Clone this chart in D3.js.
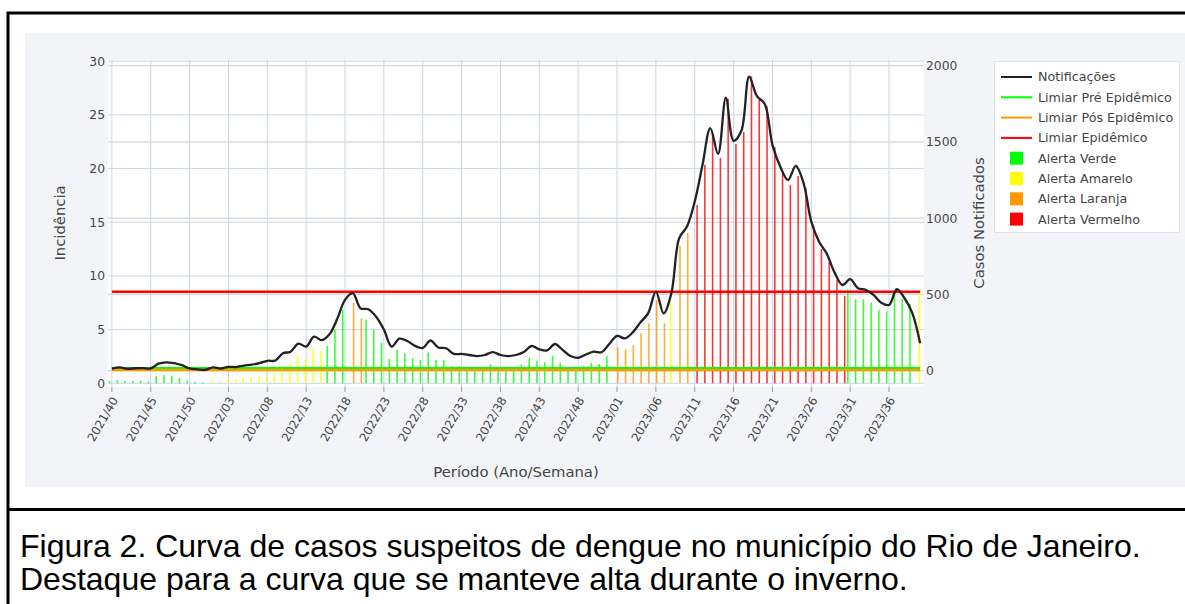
<!DOCTYPE html>
<html>
<head>
<meta charset="utf-8">
<title>Curva de casos suspeitos de dengue - Rio de Janeiro</title>
<script src="https://cdnjs.cloudflare.com/ajax/libs/d3/7.8.5/d3.min.js"></script>
<style>
	body { margin: 0; background: #fff; }
	svg text { font-family: "DejaVu Sans", sans-serif; fill: #444; }
	svg text.caption { font-family: "Liberation Sans", Arial, sans-serif; fill: #000; }
</style>
</head>
<body>
<svg id="chart" width="1185" height="604"></svg>
<script>

// semanas epidemiologicas (Ano/Semana)
var weeks = [
	"2021/40","2021/41","2021/42","2021/43","2021/44","2021/45","2021/46","2021/47","2021/48","2021/49","2021/50","2021/51","2021/52",
	"2022/01","2022/02","2022/03","2022/04","2022/05","2022/06","2022/07","2022/08","2022/09","2022/10","2022/11","2022/12","2022/13",
	"2022/14","2022/15","2022/16","2022/17","2022/18","2022/19","2022/20","2022/21","2022/22","2022/23","2022/24","2022/25","2022/26",
	"2022/27","2022/28","2022/29","2022/30","2022/31","2022/32","2022/33","2022/34","2022/35","2022/36","2022/37","2022/38","2022/39",
	"2022/40","2022/41","2022/42","2022/43","2022/44","2022/45","2022/46","2022/47","2022/48","2022/49","2022/50","2022/51","2022/52",
	"2023/01","2023/02","2023/03","2023/04","2023/05","2023/06","2023/07","2023/08","2023/09","2023/10","2023/11","2023/12","2023/13",
	"2023/14","2023/15","2023/16","2023/17","2023/18","2023/19","2023/20","2023/21","2023/22","2023/23","2023/24","2023/25","2023/26",
	"2023/27","2023/28","2023/29","2023/30","2023/31","2023/32","2023/33","2023/34","2023/35","2023/36","2023/37","2023/38","2023/39",
	"2023/40"
];

// incidencia por semana (eixo esquerdo)
var incidencia = [
	0.21, 0.30, 0.20, 0.22, 0.22, 0.18, 0.70, 0.80, 0.70, 0.52, 0.22, 0.13, 0.08,
	0.33, 0.22, 0.40, 0.40, 0.52, 0.58, 0.70, 0.95, 0.98, 1.70, 1.86, 2.62, 2.26,
	3.28, 3.00, 3.47, 5.02, 6.85, 7.48, 6.05, 5.92, 4.96, 3.78, 2.27, 3.10, 2.80,
	2.33, 2.17, 2.88, 2.17, 2.17, 1.61, 1.61, 1.49, 1.35, 1.49, 1.78, 1.50, 1.35,
	1.49, 1.78, 2.37, 2.10, 1.94, 2.56, 1.94, 1.24, 1.24, 1.62, 1.90, 1.80, 2.55,
	3.35, 3.16, 3.56, 4.65, 5.58, 7.75, 5.56, 7.50, 12.78, 14.00, 16.60, 20.35, 23.20,
	21.00, 26.50, 22.30, 23.40, 28.60, 26.45, 25.80, 22.00, 19.55, 18.45, 19.30, 18.20, 14.65,
	12.50, 11.30, 9.60, 8.13, 8.75, 7.82, 7.82, 7.50, 6.80, 6.70, 8.40, 7.90, 7.40,
	8.70
];

// nivel de alerta por semana: 1 verde, 2 amarelo, 3 laranja, 4 vermelho
var alerta = [
	1,1,1,1,1,1,1,1,1,1,1,1,1,
	2,2,2,2,2,2,2,2,2,2,2,2,2,
	2,2,1,1,1,3,3,1,1,1,1,1,1,
	1,1,1,1,1,1,1,1,1,1,1,1,1,
	1,1,1,1,1,1,1,1,1,1,1,1,1,
	3,3,3,3,3,3,3,2,3,3,4,4,4,
	4,4,4,4,4,4,4,4,4,4,4,4,4,
	4,4,4,4,1,1,1,1,1,1,1,1,1,
	2
];

// casos notificados por semana (eixo direito)
var notificacoes = [
	14, 22, 13, 16, 17, 15, 46, 55, 49, 36, 15, 9, 5,
	22, 14, 25, 24, 34, 40, 50, 65, 66, 114, 125, 178, 158,
	223, 201, 239, 340, 464, 508, 409, 403, 354, 270, 158, 210, 195,
	163, 149, 198, 152, 147, 110, 110, 103, 96, 103, 122, 103, 96,
	103, 122, 162, 140, 133, 175, 136, 96, 85, 106, 125, 121, 175,
	228, 212, 250, 316, 376, 518, 376, 510, 869, 945, 1109, 1350, 1590,
	1422, 1791, 1507, 1573, 1929, 1800, 1750, 1481, 1339, 1251, 1343, 1230, 978,
	846, 766, 643, 562, 600, 541, 530, 497, 446, 431, 534, 475, 377,
	180
];

// limiares (incidencia)
var limiarPre = 1.40;
var limiarPos = 1.24;
var limiarEpi = 8.53;

var leftTicks = [0, 5, 10, 15, 20, 25, 30];
var rightTicks = [0, 500, 1000, 1500, 2000];

var alertNames = ["Alerta Verde", "Alerta Amarelo", "Alerta Laranja", "Alerta Vermelho"];
var alertColors = ["#00ff00", "#ffff00", "#ff9900", "#ff0000"];

	var svg = d3.select("#chart");

	// area do grafico
	var plotLeft = 108, plotRight = 924, plotTop = 60, plotBottom = 387;

	//fundo cinza e area branca
	svg.append("rect")
		.attr("x", 25).attr("y", 33)
		.attr("width", 1160).attr("height", 454)
		.attr("fill", "#f3f4f8");
	svg.append("rect")
		.attr("x", plotLeft).attr("y", plotTop)
		.attr("width", plotRight - plotLeft).attr("height", plotBottom - plotTop)
		.attr("fill", "#fff");

	var x = d3.scaleBand()
		.domain(weeks)
		.range([plotLeft, plotRight])
		.paddingInner(0.2)
		.paddingOuter(0.1);

	// cada semana tem 4 posicoes, uma por cor de alerta
	var xs = d3.scaleBand()
		.domain([1, 2, 3, 4])
		.range([0, x.bandwidth()]);

	var yL = d3.scaleLinear().domain([0, 30]).range([383.3, 61.2]);
	var yR = d3.scaleLinear().domain([0, 2000]).range([370.7, 65.7]);

	function cx(w) {
		return x(w) + x.bandwidth() / 2;
	}

	var tickWeeks = weeks.filter(function(d, i) { return i % 5 === 0; });

	//linhas de grade
	var grid = svg.append("g");
	grid.selectAll("line.vx")
		.data(tickWeeks)
		.enter()
		.append("line")
		.attr("x1", function(d) { return cx(d); })
		.attr("x2", function(d) { return cx(d); })
		.attr("y1", plotTop).attr("y2", plotBottom)
		.attr("stroke", "#c9d5e6").attr("stroke-width", 1);
	grid.selectAll("line.gl")
		.data(leftTicks)
		.enter()
		.append("line")
		.attr("x1", plotLeft).attr("x2", plotRight)
		.attr("y1", function(d) { return yL(d); })
		.attr("y2", function(d) { return yL(d); })
		.attr("stroke", "#c9d5e6").attr("stroke-width", 1);
	grid.selectAll("line.gr")
		.data(rightTicks)
		.enter()
		.append("line")
		.attr("x1", plotLeft).attr("x2", plotRight)
		.attr("y1", function(d) { return yR(d); })
		.attr("y2", function(d) { return yR(d); })
		.attr("stroke", "#d6d6d6").attr("stroke-width", 1.2);

	svg.append("clipPath").attr("id", "plotclip")
		.append("rect")
		.attr("x", plotLeft).attr("y", plotTop)
		.attr("width", plotRight - plotLeft).attr("height", plotBottom - plotTop);

	var plot = svg.append("g").attr("clip-path", "url(#plotclip)");

	//barras de incidencia
	plot.selectAll("rect.bar")
		.data(weeks)
		.enter()
		.append("rect")
		.attr("x", function(d, i) { return x(d) + xs(alerta[i]); })
		.attr("width", xs.bandwidth())
		.attr("y", function(d, i) { return yL(incidencia[i]); })
		.attr("height", function(d, i) { return yL(0) - yL(incidencia[i]); })
		.attr("fill", function(d, i) { return alertColors[alerta[i] - 1]; })
		.attr("opacity", 0.8);

	//limiares
	var limiares = [
		{ v: limiarPre, c: "#00ff00" },
		{ v: limiarPos, c: "#ff9900" },
		{ v: limiarEpi, c: "#ff0000" }
	];
	plot.selectAll("line.lim")
		.data(limiares)
		.enter()
		.append("line")
		.attr("x1", cx(weeks[0]))
		.attr("x2", cx(weeks[weeks.length - 1]))
		.attr("y1", function(d) { return yL(d.v); })
		.attr("y2", function(d) { return yL(d.v); })
		.attr("stroke", function(d) { return d.c; })
		.attr("stroke-width", 2.4);

	//curva de notificacoes
	var line = d3.line()
		.x(function(d, i) { return cx(weeks[i]); })
		.y(function(d) { return yR(d); })
		.curve(d3.curveCatmullRom.alpha(0.5));
	plot.append("path")
		.datum(notificacoes)
		.attr("d", line)
		.attr("fill", "none")
		.attr("stroke", "#222")
		.attr("stroke-width", 2.3);

	//eixos
	var axL = svg.append("g")
		.attr("transform", "translate(" + plotLeft + ",0)")
		.call(d3.axisLeft(yL).tickValues(leftTicks).tickSize(0).tickPadding(3));
	axL.select(".domain").remove();
	axL.selectAll("text").attr("font-size", "12.3px").attr("font-family", null);

	var axR = svg.append("g")
		.attr("transform", "translate(" + plotRight + ",0)")
		.call(d3.axisRight(yR).tickValues(rightTicks).tickFormat(d3.format("d")).tickSize(0).tickPadding(2));
	axR.select(".domain").remove();
	axR.selectAll("text").attr("font-size", "12.3px").attr("font-family", null);

	var axB = svg.append("g")
		.attr("transform", "translate(0," + plotBottom + ")")
		.call(d3.axisBottom(x).tickValues(tickWeeks).tickSize(5).tickPadding(4));
	axB.select(".domain").remove();
	axB.selectAll("line").attr("stroke", "#9a9a9a");
	axB.selectAll("text")
		.attr("font-size", "11.8px")
		.attr("font-family", null)
		.attr("fill", "#555")
		.attr("text-anchor", "end")
		.attr("dy", "0.35em")
		.attr("transform", "translate(3,11) rotate(-60)")
		.attr("y", 0);

	//titulos dos eixos
	svg.append("text")
		.attr("transform", "translate(65,223) rotate(-90)")
		.attr("text-anchor", "middle")
		.attr("font-size", "14.8px")
		.text("Incidência");
	svg.append("text")
		.attr("transform", "translate(984,223) rotate(-90)")
		.attr("text-anchor", "middle")
		.attr("font-size", "14.8px")
		.text("Casos Notificados");
	svg.append("text")
		.attr("x", 516).attr("y", 477)
		.attr("text-anchor", "middle")
		.attr("font-size", "14.8px")
		.text("Período (Ano/Semana)");

	//legenda
	var legend = svg.append("g");
	legend.append("rect")
		.attr("x", 994.5).attr("y", 61.5)
		.attr("width", 185).attr("height", 171)
		.attr("fill", "#fff")
		.attr("stroke", "#e2e2e2");

	var legendLines = [
		{ name: "Notificações", c: "#222" },
		{ name: "Limiar Pré Epidêmico", c: "#00ff00" },
		{ name: "Limiar Pós Epidêmico", c: "#ff9900" },
		{ name: "Limiar Epidêmico", c: "#ff0000" }
	];
	var rowY = function(i) { return 77 + i * 20.3; };

	legend.selectAll("line.item")
		.data(legendLines)
		.enter()
		.append("line")
		.attr("x1", 1001).attr("x2", 1032)
		.attr("y1", function(d, i) { return rowY(i); })
		.attr("y2", function(d, i) { return rowY(i); })
		.attr("stroke", function(d) { return d.c; })
		.attr("stroke-width", 2);

	legend.selectAll("rect.item")
		.data(alertNames)
		.enter()
		.append("rect")
		.attr("x", 1010)
		.attr("y", function(d, i) { return rowY(i + 4) - 6.5; })
		.attr("width", 13).attr("height", 13)
		.attr("fill", function(d, i) { return alertColors[i]; });

	legend.selectAll("text")
		.data(legendLines.map(function(d) { return d.name; }).concat(alertNames))
		.enter()
		.append("text")
		.attr("x", 1038)
		.attr("y", function(d, i) { return rowY(i); })
		.attr("dy", "0.35em")
		.attr("font-size", "12.7px")
		.text(function(d) { return d; });

	//moldura
	svg.append("path")
		.attr("d", "M8,604 V13 H1185 M8,509.5 H1185")
		.attr("fill", "none")
		.attr("stroke", "#000")
		.attr("stroke-width", 3);

	//legenda da figura
	svg.append("text")
		.attr("class", "caption")
		.attr("x", 20).attr("y", 557)
		.attr("font-size", "32px")
		.text("Figura 2. Curva de casos suspeitos de dengue no município do Rio de Janeiro.");
	svg.append("text")
		.attr("class", "caption")
		.attr("x", 20).attr("y", 590)
		.attr("font-size", "32px")
		.text("Destaque para a curva que se manteve alta durante o inverno.");

</script>
</body>
</html>
